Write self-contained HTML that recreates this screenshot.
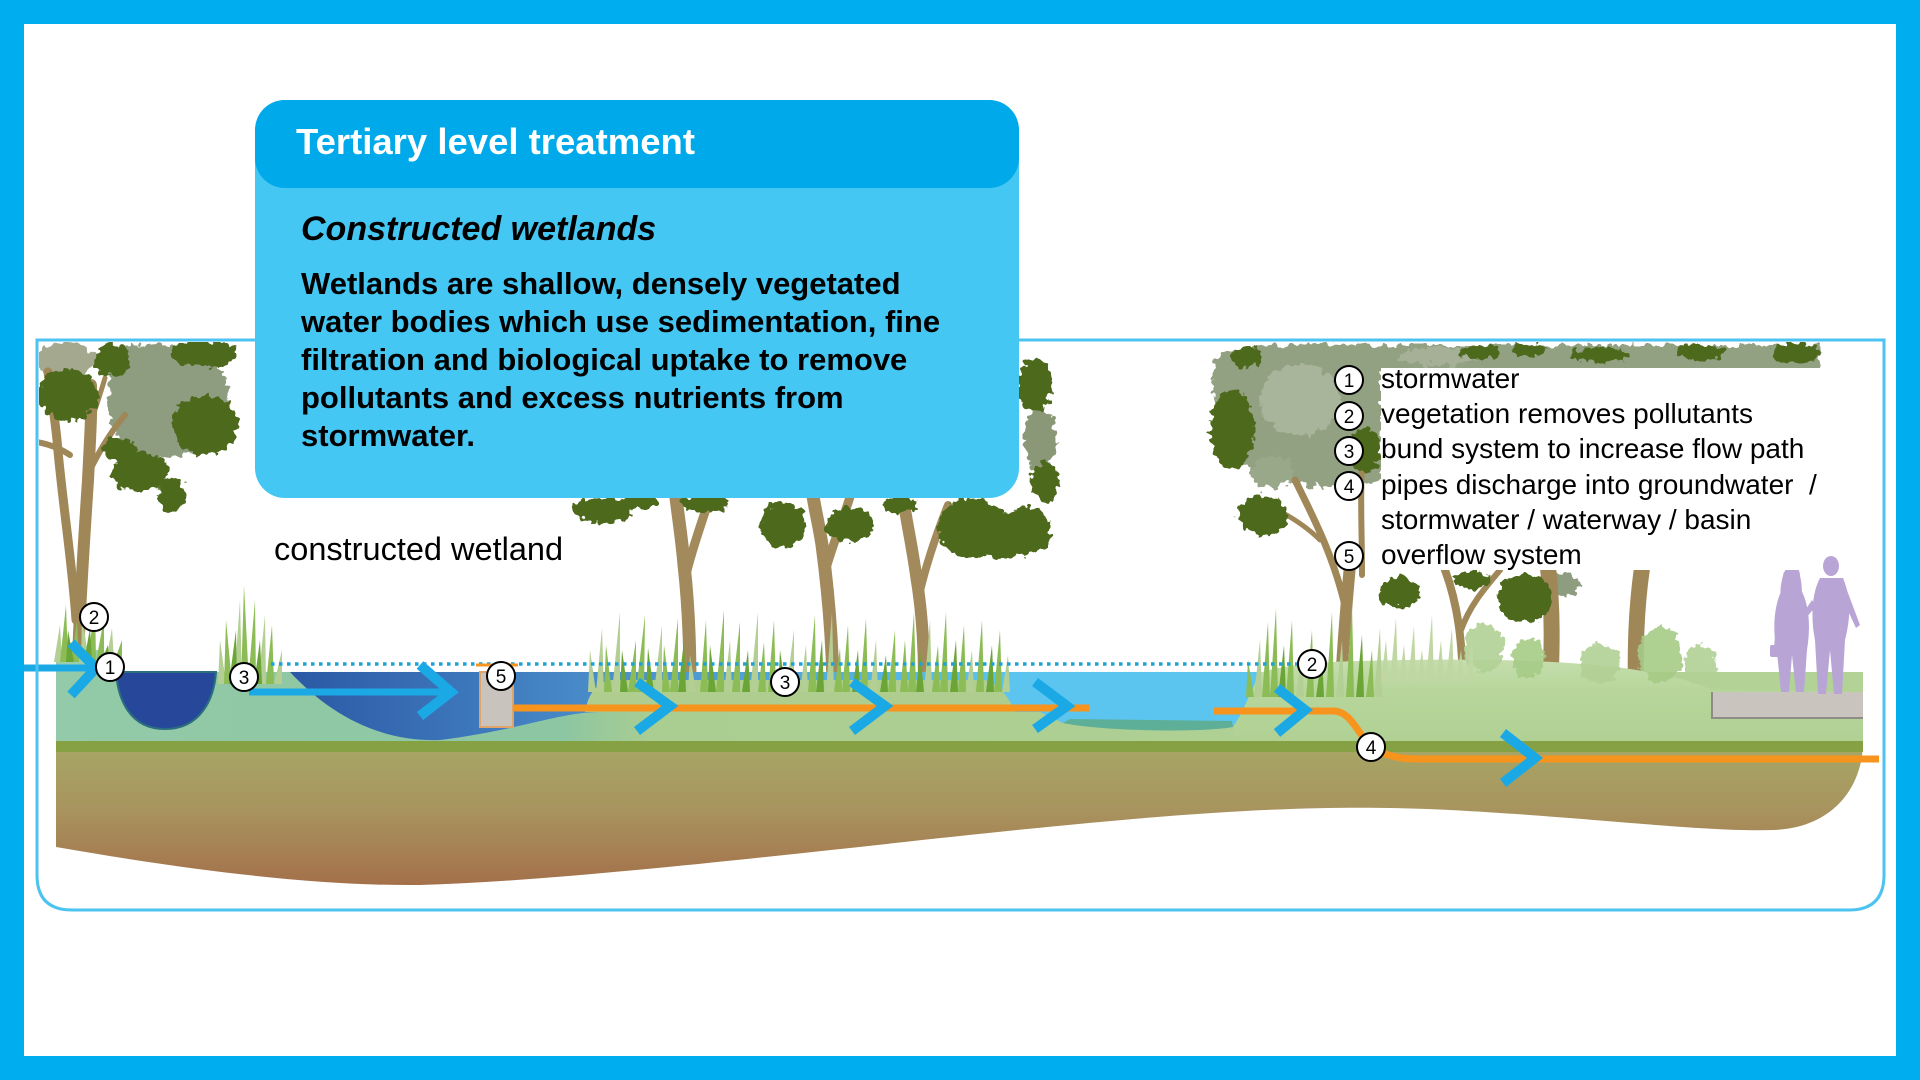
<!DOCTYPE html>
<html><head><meta charset="utf-8"><style>
html,body{margin:0;padding:0;background:#fff}
svg{display:block}
text{font-family:"Liberation Sans",Arial,sans-serif}
</style></head><body>
<svg width="1920" height="1080" viewBox="0 0 1920 1080" xmlns="http://www.w3.org/2000/svg">
<defs>
<filter id="leaf" x="-30%" y="-30%" width="160%" height="160%">
<feTurbulence type="fractalNoise" baseFrequency="0.14" numOctaves="2" seed="4" result="n"/>
<feDisplacementMap in="SourceGraphic" in2="n" scale="13" xChannelSelector="R" yChannelSelector="G"/>
</filter>
<linearGradient id="soil" x1="0" y1="752" x2="0" y2="885" gradientUnits="userSpaceOnUse">
<stop offset="0" stop-color="#A7A565"/><stop offset="0.45" stop-color="#A8935E"/><stop offset="1" stop-color="#A4704A"/>
</linearGradient>
<linearGradient id="band" x1="56" y1="0" x2="1863" y2="0" gradientUnits="userSpaceOnUse">
<stop offset="0" stop-color="#93CAA9"/><stop offset="0.28" stop-color="#8CC6A2"/><stop offset="0.33" stop-color="#AACD91"/><stop offset="1" stop-color="#B3D396"/>
</linearGradient>
<linearGradient id="water" x1="290" y1="0" x2="1258" y2="0" gradientUnits="userSpaceOnUse">
<stop offset="0" stop-color="#2B58A4"/><stop offset="0.32" stop-color="#4A8DCB"/><stop offset="0.6" stop-color="#55B3E5"/><stop offset="0.75" stop-color="#5CC5EF"/><stop offset="1" stop-color="#5CC5EF"/>
</linearGradient>
<linearGradient id="rg" x1="0" y1="658" x2="0" y2="741" gradientUnits="userSpaceOnUse">
<stop offset="0" stop-color="#C6DEAE"/><stop offset="0.4" stop-color="#B7D69B"/><stop offset="1" stop-color="#B0D094"/>
</linearGradient>
<clipPath id="scene"><rect x="39" y="342" width="1843" height="566"/></clipPath>
</defs>

<!-- frame -->
<rect x="0" y="0" width="1920" height="1080" fill="#00AEEF"/>
<rect x="24" y="24" width="1872" height="1032" fill="#FFFFFF"/>

<g clip-path="url(#scene)">
<!-- LEFT TREE -->
<g filter="url(#leaf)">
<ellipse cx="66" cy="360" rx="30" ry="18" fill="#A3A88E"/>
<path d="M110,350 C150,338 215,345 226,380 C236,420 210,455 170,458 C130,460 105,430 108,400 Z" fill="#8E9C80"/>
</g>
<g fill="none" stroke="#A08758" stroke-linecap="round">
<path d="M78,660 C80,600 84,540 88,480 C90,440 92,410 91,385" stroke-width="12"/>
<path d="M76,620 C72,560 62,500 57,440 C54,410 50,390 48,372" stroke-width="9"/>
<path d="M70,455 C60,448 48,444 37,442" stroke-width="6"/>
<path d="M90,470 C100,450 112,430 125,415" stroke-width="6"/>
<path d="M88,430 C95,410 100,395 105,378" stroke-width="5"/>
</g>
<g filter="url(#leaf)" fill="#4E6A1F">
<ellipse cx="68" cy="395" rx="30" ry="26"/>
<ellipse cx="112" cy="360" rx="18" ry="16"/>
<ellipse cx="205" cy="354" rx="34" ry="13"/>
<ellipse cx="205" cy="425" rx="33" ry="30"/>
<ellipse cx="140" cy="472" rx="28" ry="20"/>
<ellipse cx="172" cy="495" rx="14" ry="17"/>
<ellipse cx="120" cy="450" rx="18" ry="12"/>
</g>

<!-- MIDDLE TREES -->
<g filter="url(#leaf)">
<ellipse cx="1040" cy="440" rx="16" ry="32" fill="#8A9878"/>
</g>
<g fill="none" stroke="#A38A5C" stroke-linecap="round">
<path d="M690,686 C690,640 688,600 684,565 C682,540 678,515 675,490" stroke-width="13"/>
<path d="M686,575 C692,548 703,520 712,490" stroke-width="9"/>
<path d="M833,682 C832,640 828,590 822,545 C819,525 815,510 812,490" stroke-width="13"/>
<path d="M827,565 C836,535 846,512 852,490" stroke-width="9"/>
<path d="M924,678 C924,640 921,605 916,575 C912,545 906,520 902,490" stroke-width="12"/>
<path d="M919,595 C926,565 936,535 948,505" stroke-width="8"/>
</g>
<g filter="url(#leaf)" fill="#4E6A1F">
<ellipse cx="1035" cy="385" rx="17" ry="26"/>
<ellipse cx="1045" cy="482" rx="14" ry="20"/>
<ellipse cx="1025" cy="530" rx="26" ry="24"/>
<ellipse cx="1003" cy="545" rx="16" ry="16"/>
<ellipse cx="603" cy="510" rx="30" ry="13"/>
<ellipse cx="705" cy="503" rx="24" ry="9"/>
<ellipse cx="783" cy="525" rx="22" ry="23"/>
<ellipse cx="850" cy="525" rx="24" ry="17"/>
<ellipse cx="972" cy="528" rx="34" ry="30"/>
<ellipse cx="900" cy="505" rx="18" ry="8"/>
<ellipse cx="640" cy="502" rx="18" ry="8"/>
</g>

<!-- RIGHT TREES -->
<g filter="url(#leaf)">
<path d="M1215,360 C1230,343 1300,343 1381,345 L1820,345 L1820,372 L1381,372 L1381,480 C1340,490 1290,490 1250,470 C1220,450 1208,400 1215,360 Z" fill="#93A183"/>
<ellipse cx="1300" cy="400" rx="40" ry="35" fill="#A9B59B"/>
<ellipse cx="1272" cy="472" rx="22" ry="16" fill="#9AA88A"/>
<ellipse cx="1560" cy="585" rx="20" ry="12" fill="#8E9C80"/>
<ellipse cx="1440" cy="356" rx="40" ry="9" fill="#A5B097"/>
</g>
<g fill="none" stroke="#A08758" stroke-linecap="round">
<path d="M1340,702 C1342,660 1345,620 1350,565" stroke-width="12"/>
<path d="M1346,610 C1335,560 1315,520 1295,480" stroke-width="7"/>
<path d="M1320,540 C1300,520 1270,505 1255,500" stroke-width="5"/>
<path d="M1362,575 C1362,530 1360,500 1362,465" stroke-width="6"/>
<path d="M1463,684 C1462,640 1458,605 1445,570" stroke-width="8"/>
<path d="M1461,630 C1470,605 1485,588 1500,570" stroke-width="6"/>
<path d="M1550,694 C1552,650 1553,610 1548,568" stroke-width="16"/>
<path d="M1636,702 C1635,650 1636,610 1642,568" stroke-width="16"/>
</g>
<g filter="url(#leaf)" fill="#4E6A1F">
<ellipse cx="1232" cy="430" rx="22" ry="40"/>
<ellipse cx="1247" cy="357" rx="15" ry="11"/>
<ellipse cx="1263" cy="515" rx="25" ry="20"/>
<ellipse cx="1365" cy="450" rx="16" ry="22"/>
<ellipse cx="1795" cy="353" rx="24" ry="10"/>
<ellipse cx="1600" cy="355" rx="30" ry="8"/>
<ellipse cx="1700" cy="352" rx="25" ry="8"/>
<ellipse cx="1530" cy="350" rx="18" ry="6"/>
<ellipse cx="1480" cy="352" rx="20" ry="7"/>
<ellipse cx="1400" cy="592" rx="20" ry="16"/>
<ellipse cx="1525" cy="598" rx="28" ry="24"/>
<ellipse cx="1472" cy="580" rx="18" ry="9"/>
</g>

<!-- GROUND -->
<path d="M56,741 H1863 C1863,790 1830,828 1774,830 C1700,832 1600,818 1450,810 C1350,805 1250,808 1100,822 C900,840 600,880 420,885 C320,886 200,872 56,847 Z" fill="url(#soil)"/>
<rect x="56" y="741" width="1807" height="11" fill="#86A044"/>
<rect x="56" y="672" width="1807" height="69" fill="url(#band)"/>
<path d="M56,672 L56,650 L102,650 C110,655 114,664 116,672 Z" fill="#98CDAE"/>
<!-- water -->
<path d="M290,672 L1258,672 L1250,700 L1233,727 L1063,723 L1040,712 L600,712 C560,712 520,730 440,740 C380,742 330,715 290,672 Z" fill="url(#water)"/>
<path d="M1063,723 C1100,731 1200,733 1233,727 L1232,721 L1070,719 Z" fill="#5DAF98"/>
<path d="M116,672 C118,700 130,729 165,729 C200,729 214,700 216,672 Z" fill="#27479A" stroke="#2B6E80" stroke-width="2"/>
<path d="M585,712 C588,695 595,684 610,680 L985,680 C998,684 1008,695 1015,712 Z" fill="#AECD8F"/>
<path d="M1233,741 L1233,727 C1245,710 1250,690 1262,672 C1290,664 1320,662 1360,661 C1500,657 1650,660 1712,690 L1863,692 L1863,741 Z" fill="url(#rg)"/>

<!-- bushes -->
<g filter="url(#leaf)" opacity="0.9">
<ellipse cx="1484" cy="648" rx="20" ry="24" fill="#B1D195"/>
<ellipse cx="1528" cy="658" rx="16" ry="20" fill="#A6CB86"/>
<ellipse cx="1600" cy="664" rx="20" ry="20" fill="#B1D195"/>
<ellipse cx="1660" cy="655" rx="22" ry="28" fill="#A6CB86"/>
<ellipse cx="1700" cy="665" rx="16" ry="20" fill="#B1D195"/>
</g>

<!-- pavement -->
<rect x="1712" y="692" width="151" height="26" fill="#C9C5BE"/>
<path d="M1712,692 V718 H1863" fill="none" stroke="#8F8C87" stroke-width="2"/>

<!-- people -->
<g fill="#B9A4D6">
<ellipse cx="1792" cy="576" rx="8" ry="11"/>
<path d="M1784,572 C1780,585 1779,598 1783,602 L1800,602 C1803,595 1802,582 1799,572 Z"/>
<path d="M1783,588 C1774,603 1772,630 1777,652 L1781,692 L1789,692 L1792,655 L1796,692 L1804,692 L1807,650 C1811,625 1809,603 1800,588 Z"/>
<rect x="1770" y="645" width="10" height="12" rx="2"/>
<path d="M1778,600 L1774,648 L1778,648 L1783,605 Z"/>
<ellipse cx="1831" cy="566" rx="8" ry="10"/>
<path d="M1820,578 C1811,595 1811,620 1815,640 L1818,694 L1826,694 L1830,650 L1834,694 L1842,694 L1845,640 C1850,620 1852,600 1843,578 Z"/>
<path d="M1845,585 L1860,625 L1856,628 L1843,600 Z"/>
<path d="M1812,600 L1802,615 L1806,618 L1816,606 Z"/>
</g>

<!-- REEDS -->
<g>
<polygon points="54,662 60,625 62,662" fill="#B3CF93"/>
<polygon points="81,662 82,615 89,662" fill="#B3CF93"/>
<polygon points="106,662 112,628 114,662" fill="#B3CF93"/>
<polygon points="60,662 66,605 68,662" fill="#8CBC55"/>
<polygon points="71,662 77,620 79,662" fill="#8CBC55"/>
<polygon points="88,662 95,600 96,662" fill="#8CBC55"/>
<polygon points="96,662 104,618 104,662" fill="#8CBC55"/>
<polygon points="114,662 122,640 122,662" fill="#8CBC55"/>
<polygon points="66,662 68,630 74,662" fill="#6AA536"/>
<polygon points="84,662 90,628 92,662" fill="#6AA536"/>
<polygon points="101,662 108,645 109,662" fill="#6AA536"/>

<polygon points="218,684 220,640 226,684" fill="#B3CF93"/>
<polygon points="234,684 240,600 242,684" fill="#B3CF93"/>
<polygon points="258,684 265,615 266,684" fill="#B3CF93"/>
<polygon points="274,684 282,650 282,684" fill="#B3CF93"/>
<polygon points="224,684 226,620 232,684" fill="#8CBC55"/>
<polygon points="241,684 244,585 249,684" fill="#8CBC55"/>
<polygon points="248,684 255,600 256,684" fill="#8CBC55"/>
<polygon points="266,684 272,625 274,684" fill="#8CBC55"/>
<polygon points="229,684 236,630 237,684" fill="#6AA536"/>
<polygon points="254,684 260,640 262,684" fill="#6AA536"/>
</g>
<g>
<polygon points="588,692 590,650 596,692" fill="#B3CF93"/>
<polygon points="596,692 602,628 604,692" fill="#B3CF93"/>
<polygon points="604,692 606,645 612,692" fill="#8CBC55"/>
<polygon points="612,692 620,612 620,692" fill="#B3CF93"/>
<polygon points="620,692 622,650 628,692" fill="#6AA536"/>
<polygon points="628,692 636,640 636,692" fill="#8CBC55"/>
<polygon points="636,692 645,615 644,692" fill="#8CBC55"/>
<polygon points="646,692 648,648 654,692" fill="#6AA536"/>
<polygon points="654,692 662,625 662,692" fill="#B3CF93"/>
<polygon points="662,692 664,645 670,692" fill="#8CBC55"/>
<polygon points="670,692 678,618 678,692" fill="#8CBC55"/>
<polygon points="678,692 684,640 686,692" fill="#6AA536"/>
<polygon points="688,692 690,655 696,692" fill="#B3CF93"/>
<polygon points="700,692 706,620 708,692" fill="#8CBC55"/>
<polygon points="708,692 710,645 716,692" fill="#6AA536"/>
<polygon points="716,692 724,610 724,692" fill="#8CBC55"/>
<polygon points="724,692 730,640 732,692" fill="#B3CF93"/>
<polygon points="732,692 740,622 740,692" fill="#8CBC55"/>
<polygon points="742,692 748,650 750,692" fill="#6AA536"/>
<polygon points="750,692 758,612 758,692" fill="#B3CF93"/>
<polygon points="758,692 764,642 766,692" fill="#8CBC55"/>
<polygon points="768,692 774,620 776,692" fill="#8CBC55"/>
<polygon points="778,692 780,650 786,692" fill="#6AA536"/>
<polygon points="786,692 794,630 794,692" fill="#B3CF93"/>
<polygon points="800,692 806,645 808,692" fill="#B3CF93"/>
<polygon points="808,692 815,615 816,692" fill="#8CBC55"/>
<polygon points="816,692 822,640 824,692" fill="#6AA536"/>
<polygon points="826,692 832,612 834,692" fill="#B3CF93"/>
<polygon points="834,692 840,648 842,692" fill="#8CBC55"/>
<polygon points="842,692 848,625 850,692" fill="#8CBC55"/>
<polygon points="852,692 858,650 860,692" fill="#6AA536"/>
<polygon points="860,692 866,618 868,692" fill="#8CBC55"/>
<polygon points="870,692 876,640 878,692" fill="#B3CF93"/>
<polygon points="880,692 886,655 888,692" fill="#6AA536"/>
<polygon points="888,692 895,630 896,692" fill="#8CBC55"/>
<polygon points="900,692 905,640 908,692" fill="#8CBC55"/>
<polygon points="908,692 914,612 916,692" fill="#8CBC55"/>
<polygon points="916,692 920,650 924,692" fill="#6AA536"/>
<polygon points="924,692 930,620 932,692" fill="#B3CF93"/>
<polygon points="932,692 938,645 940,692" fill="#8CBC55"/>
<polygon points="940,692 946,612 948,692" fill="#8CBC55"/>
<polygon points="950,692 956,640 958,692" fill="#6AA536"/>
<polygon points="958,692 964,625 966,692" fill="#8CBC55"/>
<polygon points="966,692 972,650 974,692" fill="#B3CF93"/>
<polygon points="976,692 982,620 984,692" fill="#8CBC55"/>
<polygon points="986,692 992,645 994,692" fill="#6AA536"/>
<polygon points="994,692 1000,630 1002,692" fill="#8CBC55"/>
<polygon points="1002,692 1008,655 1010,692" fill="#B3CF93"/>
</g>
<g>
<polygon points="1246,697 1248,660 1254,697" fill="#8CBC55"/>
<polygon points="1254,697 1260,640 1262,697" fill="#B3CF93"/>
<polygon points="1262,697 1268,622 1270,697" fill="#8CBC55"/>
<polygon points="1270,697 1276,608 1278,697" fill="#8CBC55"/>
<polygon points="1278,697 1284,645 1286,697" fill="#6AA536"/>
<polygon points="1286,697 1292,620 1294,697" fill="#8CBC55"/>
<polygon points="1296,697 1302,650 1304,697" fill="#B3CF93"/>
<polygon points="1306,697 1312,630 1314,697" fill="#8CBC55"/>
<polygon points="1316,697 1322,655 1324,697" fill="#6AA536"/>
<polygon points="1326,697 1332,612 1334,697" fill="#8CBC55"/>
<polygon points="1336,697 1342,640 1344,697" fill="#B3CF93"/>
<polygon points="1346,697 1352,605 1354,697" fill="#8CBC55"/>
<polygon points="1356,697 1362,635 1364,697" fill="#6AA536"/>
<polygon points="1366,697 1372,650 1374,697" fill="#8CBC55"/>
<polygon points="1374,697 1380,628 1382,697" fill="#B3CF93"/>
<polygon points="1381,682 1386,640 1389,682" fill="#C0D7A4"/>
<polygon points="1390,682 1396,618 1398,682" fill="#C0D7A4"/>
<polygon points="1399,682 1404,645 1407,682" fill="#C0D7A4"/>
<polygon points="1408,682 1414,626 1416,682" fill="#C0D7A4"/>
<polygon points="1417,682 1422,650 1425,682" fill="#C0D7A4"/>
<polygon points="1426,682 1432,615 1434,682" fill="#C0D7A4"/>
<polygon points="1436,682 1441,640 1444,682" fill="#C0D7A4"/>
<polygon points="1446,682 1452,628 1454,682" fill="#C0D7A4"/>
<polygon points="1456,682 1461,650 1464,682" fill="#C0D7A4"/>
<polygon points="1466,682 1472,638 1474,682" fill="#C0D7A4"/>
</g>

<!-- dotted surface -->
<path d="M271,664 H1300" stroke="#19A3DE" stroke-width="3.5" stroke-dasharray="3.5 4.5" fill="none"/>

<!-- overflow box -->
<rect x="480" y="672" width="33" height="55" fill="#C8C3BC" stroke="#E0A36A" stroke-width="2"/>
<path d="M476,665 H518" stroke="#F7941D" stroke-width="3"/>

<!-- pipes -->
<g fill="none" stroke="#F7941D" stroke-width="7">
<path d="M513,708 H1089"/>
<path d="M1214,711 H1333 C1355,711 1360,745 1380,752 C1395,758 1405,759 1420,759 H1879"/>
</g>
</g>

<!-- blue arrows -->
<g fill="none" stroke="#1BA9E6" stroke-linejoin="miter" stroke-linecap="butt">
<path d="M24,668 H92" stroke-width="7"/>
<path d="M71,643 L96,668 L71,695" stroke-width="10"/>
<path d="M249,692 H447" stroke-width="7"/>
<path d="M420,665 L451,692 L420,716" stroke-width="10"/>
<path d="M637,682 L670,706 L637,731" stroke-width="10"/>
<path d="M852,682 L885,706 L852,731" stroke-width="10"/>
<path d="M1035,682 L1067,706 L1035,729" stroke-width="10"/>
<path d="M1277,688 L1305,710 L1277,733" stroke-width="10"/>
<path d="M1503,733 L1535,758 L1503,783" stroke-width="10"/>
</g>

<!-- numbered circles -->
<g font-size="19" text-anchor="middle" fill="#000">
<g stroke="#000" stroke-width="2" fill="#fff">
<circle cx="94" cy="617" r="14"/><circle cx="110" cy="667" r="14"/><circle cx="244" cy="677" r="14"/>
<circle cx="501" cy="676" r="14"/><circle cx="785" cy="682" r="14"/><circle cx="1312" cy="664" r="14"/>
<circle cx="1371" cy="747" r="14"/>
</g>
<text x="94" y="624">2</text><text x="110" y="674">1</text><text x="244" y="684">3</text>
<text x="501" y="683">5</text><text x="785" y="689">3</text><text x="1312" y="671">2</text>
<text x="1371" y="754">4</text>
</g>

<!-- panel outline -->
<path d="M37,340 H1884 V875 Q1884,910 1849,910 H72 Q37,910 37,875 Z" fill="none" stroke="#4CC3F0" stroke-width="3"/>

<!-- legend -->
<rect x="1381" y="368" width="440" height="202" fill="#fff"/>
<g font-size="19" text-anchor="middle">
<g stroke="#000" stroke-width="2" fill="#fff">
<circle cx="1349" cy="380" r="14"/><circle cx="1349" cy="416" r="14"/><circle cx="1349" cy="451" r="14"/>
<circle cx="1349" cy="486" r="14"/><circle cx="1349" cy="556" r="14"/>
</g>
<text x="1349" y="387">1</text><text x="1349" y="423">2</text><text x="1349" y="458">3</text>
<text x="1349" y="493">4</text><text x="1349" y="563">5</text>
</g>
<g font-size="28" fill="#000">
<text x="1381" y="388">stormwater</text>
<text x="1381" y="423">vegetation removes pollutants</text>
<text x="1381" y="458">bund system to increase flow path</text>
<text x="1381" y="494" xml:space="preserve">pipes discharge into groundwater  /</text>
<text x="1381" y="529">stormwater / waterway / basin</text>
<text x="1381" y="564">overflow system</text>
</g>

<!-- title box -->
<rect x="255" y="100" width="764" height="398" rx="30" fill="#45C7F4"/>
<rect x="255" y="100" width="764" height="88" rx="30" fill="#00A9E9"/>
<text x="296" y="154" font-size="36.5" font-weight="bold" fill="#fff">Tertiary level treatment</text>
<text x="301" y="240" font-size="34" font-weight="bold" font-style="italic" fill="#000">Constructed wetlands</text>
<g font-size="31" font-weight="bold" fill="#000">
<text x="301" y="294">Wetlands are shallow, densely vegetated</text>
<text x="301" y="332">water bodies which use sedimentation, fine</text>
<text x="301" y="370">filtration and biological uptake to remove</text>
<text x="301" y="408">pollutants and excess nutrients from</text>
<text x="301" y="446">stormwater.</text>
</g>

<text x="274" y="560" font-size="32.5" fill="#000">constructed wetland</text>
</svg>
</body></html>
